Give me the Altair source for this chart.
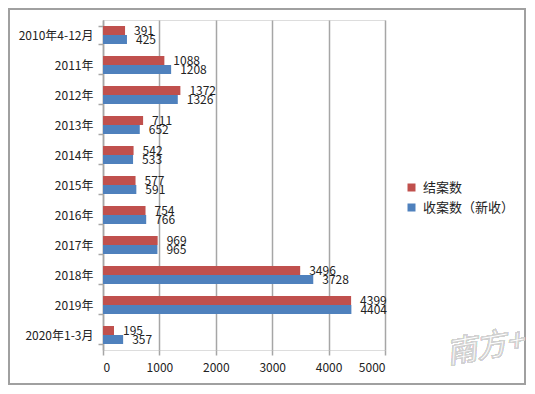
import altair as alt
import pandas as pd

categories = ["2010年4-12月", "2011年", "2012年", "2013年", "2014年", "2015年",
              "2016年", "2017年", "2018年", "2019年", "2020年1-3月"]
closed_cases = [391, 1088, 1372, 711, 542, 577, 754, 969, 3496, 4399, 195]
new_cases = [425, 1208, 1326, 652, 533, 591, 766, 965, 3728, 4404, 357]
series_names = ["结案数", "收案数（新收）"]
series_colors = ["#C0504D", "#4F81BD"]
x_ticks = [0, 1000, 2000, 3000, 4000, 5000]

rows = []
for c, a, b in zip(categories, closed_cases, new_cases):
    rows.append({"cat": c, "series": series_names[0], "value": a, "order": 0})
    rows.append({"cat": c, "series": series_names[1], "value": b, "order": 1})
df = pd.DataFrame(rows)

FONT = "Noto Sans CJK SC"
GRID = "#A6A6A6"

y_enc = alt.Y("cat:N", sort=categories, title=None,
              scale=alt.Scale(paddingInner=0.4, paddingOuter=0.2),
              axis=alt.Axis(labelFontSize=12, labelFont=FONT, labelColor="#222222",
                            domainColor=GRID, domainWidth=1.5, tickColor=GRID,
                            tickSize=5, tickWidth=1.5, labelPadding=5,
                            tickBand="extent"))
x_enc = alt.X("value:Q", title=None,
              scale=alt.Scale(domain=[0, 5000], nice=False),
              axis=alt.Axis(values=x_ticks, format="d", grid=True, gridColor=GRID,
                            gridWidth=1.5, domain=False, tickColor=GRID, tickSize=5,
                            tickWidth=1.5, labelFontSize=12, labelFont=FONT,
                            labelColor="#222222", labelPadding=7))
yoff = alt.YOffset("series:N", sort=series_names)
color = alt.Color("series:N", sort=series_names,
                  scale=alt.Scale(domain=series_names, range=series_colors),
                  legend=alt.Legend(title=None, orient="none", legendX=302, legendY=161,
                                    symbolType="square", symbolSize=64,
                                    symbolStrokeWidth=0, labelFont=FONT,
                                    labelFontSize=13, labelColor="#222222",
                                    rowPadding=6, labelOffset=5, padding=0))

bars = alt.Chart(df).mark_bar(size=9).encode(y=y_enc, x=x_enc, yOffset=yoff, color=color)
labels = alt.Chart(df).mark_text(align="left", baseline="middle", dx=9, font=FONT,
                                 fontSize=12, color="#222222").encode(
    y=alt.Y("cat:N", sort=categories), x="value:Q", yOffset=yoff, text="value:Q")

border = alt.Chart(df).mark_rect(fill=None, stroke="#A0A0A0", strokeWidth=2).encode(
    x=alt.value(-94), x2=alt.value(422), y=alt.value(-11), y2=alt.value(364))

watermark = alt.Chart(df).mark_text(text="南方+", font=FONT, fontSize=30, fontStyle="italic",
                                    fill="#FFFFFF", stroke="#D0D0D0", strokeWidth=1,
                                    opacity=0.9, angle=350).encode(
    x=alt.value(382), y=alt.value(328))

chart = alt.layer(bars, labels, border, watermark).properties(
    width=282, height=330,
    padding={"left": 95, "top": 12, "right": 142, "bottom": 36},
    autosize=alt.AutoSizeParams(type="none"),
).configure_view(stroke=None).configure(background="white")

chart.save("out.html", embed_options={"renderer": "svg", "actions": False})
